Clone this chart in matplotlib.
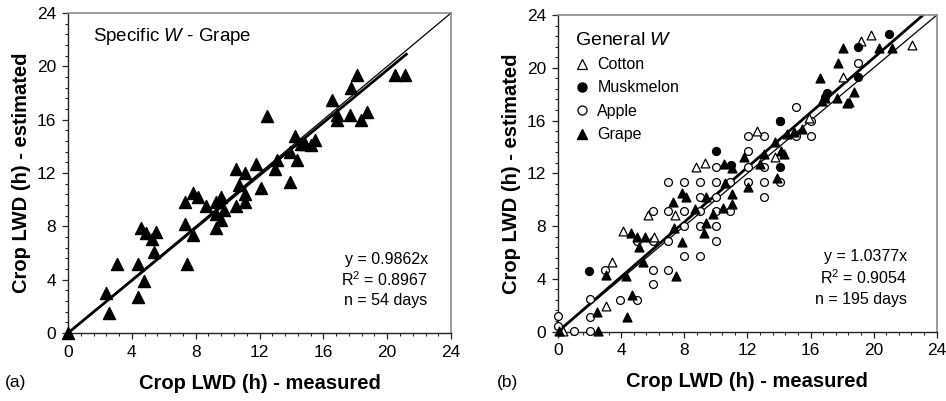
import matplotlib.pyplot as plt
from matplotlib.ticker import MultipleLocator
from matplotlib.lines import Line2D

plt.rcParams['font.family'] = ['Liberation Sans', 'DejaVu Sans']
plt.rcParams['mathtext.fontset'] = 'custom'
plt.rcParams['mathtext.rm'] = 'Liberation Sans'
plt.rcParams['mathtext.it'] = 'Liberation Sans:italic'

# (a) specific W - grape, measured vs estimated LWD (h)
grape_a_x = [0, 2.57, 2.36, 3.09, 4.38, 4.38, 4.74, 4.59, 4.86, 5.26, 5.53, 5.39,
             7.31, 7.31, 7.47, 7.83, 7.83, 8.14, 8.66, 9.29, 9.56, 9.29, 9.29, 9.6,
             9.77, 10.54, 11.06, 10.69, 11.06, 11.06, 10.54, 11.8, 12.07, 12.48,
             12.94, 13.11, 13.88, 13.88, 14.2, 14.36, 14.61, 14.86, 15.24, 15.49,
             16.53, 16.87, 16.87, 17.64, 17.75, 18.12, 18.37, 18.75, 20.46, 21.09]
grape_a_y = [0, 1.5, 3.0, 5.2, 2.7, 5.2, 3.9, 7.85, 7.5, 7.05, 7.55, 6.1,
             9.8, 8.2, 5.2, 7.35, 10.5, 10.2, 9.5, 9.8, 10.2, 8.9, 7.9, 8.5,
             9.2, 12.3, 12.0, 11.1, 10.4, 9.85, 9.55, 12.65, 10.85, 16.3,
             12.3, 13.0, 11.35, 13.6, 14.8, 13.0, 14.2, 14.2, 14.1, 14.5,
             17.5, 16.0, 16.35, 16.35, 18.35, 19.35, 16.0, 16.6, 19.35, 19.35]
slope_a = 0.9862
stats_a = ["y = 0.9862x", "R$^{2}$ = 0.8967", "n = 54 days"]

# (b) general W - all crops
cotton_x = [0.3, 3.07, 3.42, 4.12, 5.69, 6.07, 7.44, 8.77, 9.34, 12.62, 13.72,
            15.9, 18.08, 19.22, 19.81, 22.45]
cotton_y = [0.05, 1.95, 5.25, 7.6, 8.8, 7.15, 8.8, 12.45, 12.75, 15.2, 13.2,
            16.2, 19.3, 22.0, 22.5, 21.7]
musk_x = [1.99, 10.04, 10.93, 14.06, 14.06, 17.06, 16.9, 19.03, 19.03, 20.97]
musk_y = [4.6, 13.7, 12.6, 12.5, 16.0, 18.1, 17.8, 19.3, 21.55, 22.55]
apple_x = [0, 0, 1.0, 2.0, 2.0, 2.0, 3.0, 3.95, 5.0, 6.0, 6.0, 7.0, 6.0, 7.0,
           5.0, 8.0, 9.0, 8.0, 7.0, 6.0, 7.0, 8.0, 9.0, 9.0, 9.0, 9.0, 10.0,
           10.0, 10.0, 10.0, 10.0, 10.0, 10.9, 10.9, 12.05, 12.05, 12.05, 12.05,
           13.05, 13.05, 13.05, 13.05, 14.05, 14.05, 15.05, 15.05, 16.05, 16.05,
           19.03, 8.0]
apple_y = [1.2, 0.4, 0.05, 0.05, 1.1, 2.45, 4.65, 2.4, 2.4, 4.65, 3.6, 4.65,
           6.9, 6.9, 6.9, 5.7, 5.7, 8.0, 9.15, 9.15, 11.35, 9.15, 11.35, 10.2,
           9.15, 8.0, 8.0, 6.9, 9.15, 10.2, 11.35, 12.5, 9.15, 11.35, 11.35,
           12.5, 13.7, 14.85, 10.2, 11.35, 12.5, 14.85, 11.35, 16.0, 17.05,
           14.85, 14.85, 16.0, 20.4, 11.35]
grape_b_x = [0.05, 2.55, 4.35, 2.45, 4.7, 3.07, 4.33, 5.37, 7.5, 5.15, 5.48,
             4.6, 5.0, 7.85, 7.32, 7.3, 7.86, 8.12, 8.66, 9.22, 9.35, 9.4, 9.84,
             10.48, 10.6, 11.02, 11.05, 10.51, 11.0, 11.78, 12.05, 13.04, 12.83,
             13.85, 13.78, 14.14, 14.31, 14.52, 14.95, 15.43, 16.75, 17.65,
             18.43, 18.75, 16.58, 17.76, 18.05, 20.34, 21.14, 18.3, 16.9]
grape_b_y = [0.05, 0.05, 1.1, 1.45, 2.75, 4.25, 4.2, 5.3, 4.2, 6.4, 7.15,
             7.5, 7.2, 6.8, 7.85, 9.8, 10.5, 10.2, 9.3, 7.5, 8.2, 10.2, 8.95,
             9.35, 11.3, 10.4, 9.7, 12.7, 12.4, 13.2, 10.95, 13.5, 12.7,
             11.65, 14.35, 13.7, 13.45, 15.0, 15.1, 15.35, 17.45, 17.75,
             17.4, 18.15, 19.2, 20.35, 21.5, 21.5, 21.5, 17.3, 17.7]
slope_b = 1.0377
stats_b = ["y = 1.0377x", "R$^{2}$ = 0.9054", "n = 195 days"]


def style(ax):
    ax.set_xlim(0, 24)
    ax.set_ylim(0, 24)
    ax.xaxis.set_major_locator(MultipleLocator(4))
    ax.yaxis.set_major_locator(MultipleLocator(4))
    ax.xaxis.set_minor_locator(MultipleLocator(0.8))
    ax.yaxis.set_minor_locator(MultipleLocator(0.8))
    ax.tick_params(which='major', direction='out', length=4.5, width=0.9,
                   labelsize=12.5, pad=4, color='#222222')
    ax.tick_params(which='minor', direction='out', length=2.5, width=0.8,
                   color='#222222')
    for s in ['left', 'bottom']:
        ax.spines[s].set_color('#222222')
        ax.spines[s].set_linewidth(1.0)
    for s in ['top', 'right']:
        ax.spines[s].set_color('#8a8a8a')
        ax.spines[s].set_linewidth(1.2)
    ax.set_xlabel('Crop LWD (h) - measured', fontsize=14.5, fontweight='bold',
                  labelpad=10)
    ax.set_ylabel('Crop LWD (h) - estimated', fontsize=14.5, fontweight='bold',
                  labelpad=4)
    ax.plot([0, 24], [0, 24], color='black', lw=0.9, zorder=2)


fig = plt.figure(figsize=(9.46, 4.01), dpi=100)
ax1 = fig.add_axes([0.0719, 0.1696, 0.4049, 0.798])
ax2 = fig.add_axes([0.5899, 0.1733, 0.4003, 0.789])
style(ax1)
style(ax2)

# panel (a)
ax1.plot([0, 21.2], [0, 21.2 * slope_a], color='black', lw=2.0, zorder=2)
ax1.scatter(grape_a_x, grape_a_y, marker='^', s=75, color='black',
            zorder=3, clip_on=False)
ax1.text(0.065, 0.925, 'Specific $W$ - Grape', transform=ax1.transAxes,
         fontsize=13.5, va='center', ha='left')
for i, t in enumerate(stats_a):
    ax1.text(0.939, 0.231 - i * 0.065, t, transform=ax1.transAxes,
             fontsize=11.5, ha='right', va='center')

# panel (b)
ax2.plot([0, 24 / slope_b], [0, 24], color='black', lw=2.0, zorder=2)
ax2.scatter(apple_x, apple_y, marker='o', s=32, facecolor='white',
            edgecolor='black', linewidths=0.9, zorder=3, clip_on=False)
ax2.scatter(cotton_x, cotton_y, marker='^', s=40, facecolor='white',
            edgecolor='black', linewidths=0.9, zorder=3, clip_on=False)
ax2.scatter(grape_b_x, grape_b_y, marker='^', s=40, color='black',
            zorder=4, clip_on=False)
ax2.scatter(musk_x, musk_y, marker='o', s=32, color='black',
            zorder=4, clip_on=False)
for i, t in enumerate(stats_b):
    ax2.text(0.921, 0.236 - i * 0.067, t, transform=ax2.transAxes,
             fontsize=11.5, ha='right', va='center')

handles = [
    Line2D([], [], ls='none', marker='^', ms=7, mfc='white', mec='black', mew=0.9),
    Line2D([], [], ls='none', marker='o', ms=6.5, mfc='black', mec='black'),
    Line2D([], [], ls='none', marker='o', ms=6.5, mfc='white', mec='black', mew=0.9),
    Line2D([], [], ls='none', marker='^', ms=7, mfc='black', mec='black'),
]
leg = ax2.legend(handles, ['Cotton', 'Muskmelon', 'Apple', 'Grape'],
                 title='General $W$', loc='upper left',
                 bbox_to_anchor=(0.045, 0.947), frameon=False, fontsize=11.5,
                 title_fontsize=14, alignment='left', borderpad=0,
                 borderaxespad=0, handlelength=0.9, handletextpad=0.5,
                 labelspacing=0.52)

fig.text(0.005, 0.045, '(a)', fontsize=12.5, va='center')
fig.text(0.525, 0.045, '(b)', fontsize=12.5, va='center')

fig.savefig('out.png', dpi=100)
